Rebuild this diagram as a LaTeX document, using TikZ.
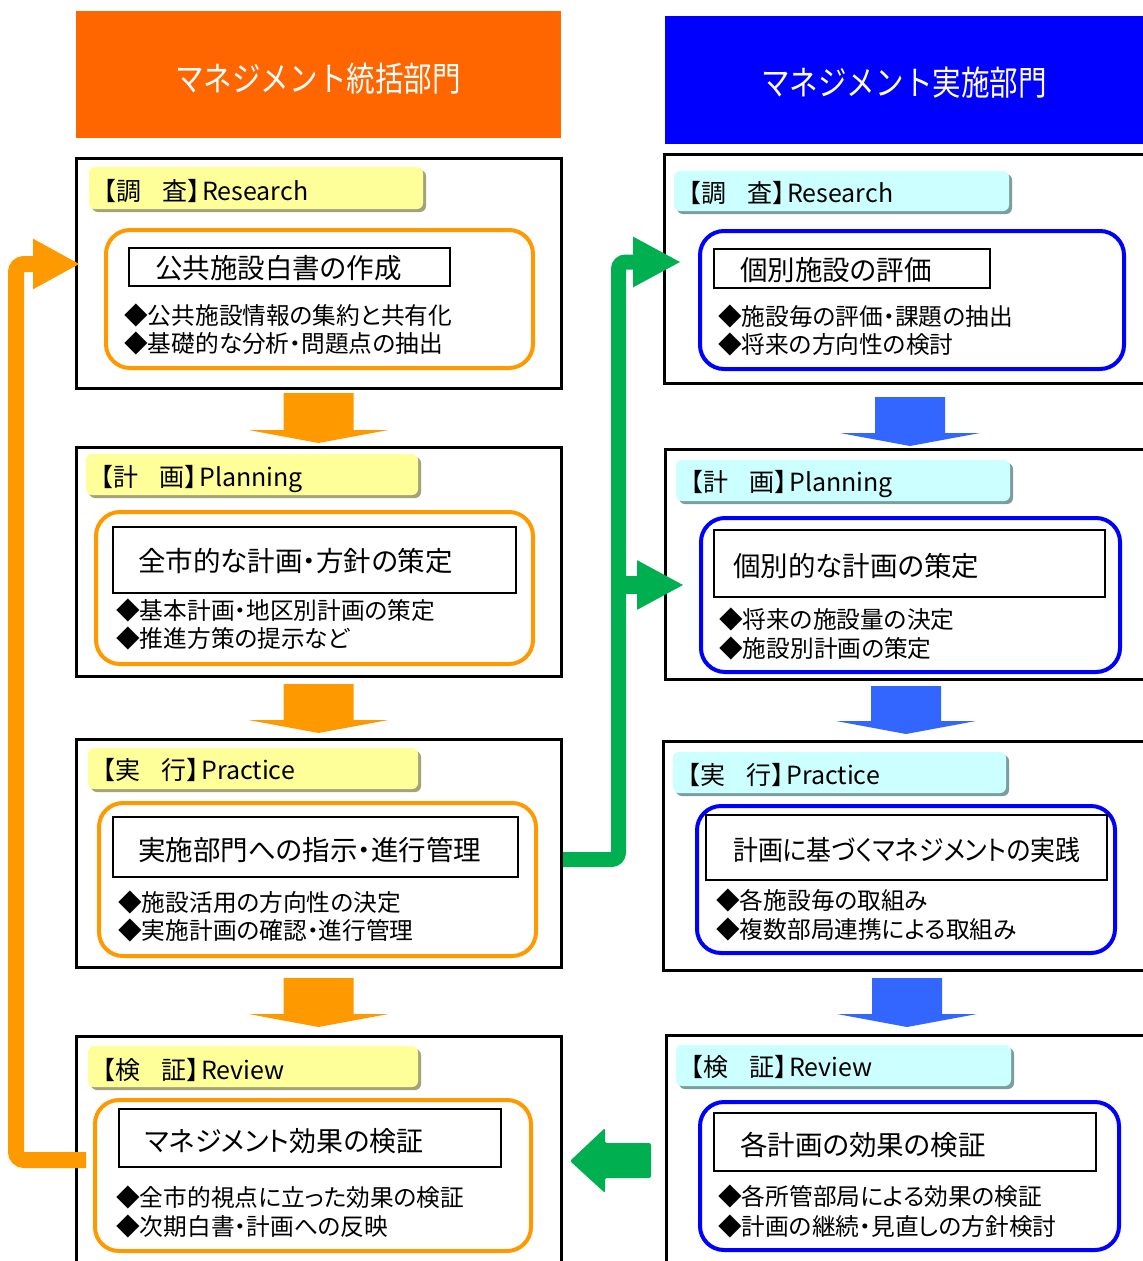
\documentclass[tikz,border=0pt]{standalone}
\usepackage{fontspec}
\newfontfamily\jp[RawFeature=+palt]{Noto Sans CJK JP}
\newfontfamily\jpf{Noto Sans CJK JP}
\usetikzlibrary{arrows.meta}
\definecolor{hdrO}{HTML}{FF6600}
\definecolor{hdrB}{HTML}{0000FF}
\definecolor{lnO}{HTML}{FF9900}
\definecolor{lnB}{HTML}{0000FF}
\definecolor{arB}{HTML}{3366FF}
\definecolor{grn}{HTML}{00B050}
\definecolor{tabY}{HTML}{FFFF99}
\definecolor{tabYs}{HTML}{A3A37A}
\definecolor{tabC}{HTML}{CCFFFF}
\definecolor{tabCs}{HTML}{7A9E9E}
\tikzset{
  outerbox/.style={draw=black, line width=3pt},
  innerO/.style={draw=lnO, line width=4pt, rounded corners=24pt},
  innerB/.style={draw=lnB, line width=4pt, rounded corners=24pt},
  titlebox/.style={draw=black, line width=1.5pt},
}
% text node: name, x, y(center), size, text
\newcommand\jt[5]{\node[anchor=base west,inner sep=0pt,font=\jp\fontsize{#4}{#4}\selectfont] (#1) at (#2,{#3+0.37*#4}) {#5};}
\newcommand\tabtext[2]{{\jpf 【#1\hspace{21pt}#2】}\hspace{-10pt}}
% tab: x1 y1 x2 y2 fill shadow
\newcommand\tabbox[6]{%
  \fill[#6, rounded corners=6pt] ({#1+3},{#2+3}) rectangle ({#3+3},{#4+3});
  \fill[#5, rounded corners=6pt] (#1,#2) rectangle (#3,#4);}
% down block arrow: cx top tip color
\newcommand\blockdown[4]{%
  \fill[#4] ({#1-35},#2) -- ({#1+35},#2) -- ({#1+35},{#3-13}) -- ({#1+70},{#3-13})
    -- (#1,#3) -- ({#1-70},{#3-13}) -- ({#1-35},{#3-13}) -- cycle;}
\begin{document}
\begin{tikzpicture}[x=1pt,y=-1pt]
\useasboundingbox (0,0) rectangle (1143,1261);
\fill[white] (0,0) rectangle (1143,1261);

% headers
\fill[hdrO] (76,11) rectangle (561,138);
\node[inner sep=0pt,text=white,font=\jpf\fontsize{34}{34}\selectfont] (hL) at (318,79) {\scalebox{0.84}[1]{マネジメント統括部門}};
\fill[hdrB] (665,16) rectangle (1150,144);
\node[inner sep=0pt,text=white,font=\jpf\fontsize{34}{34}\selectfont] (hR) at (904,83) {\scalebox{0.84}[1]{マネジメント実施部門}};

% outer boxes
\draw[outerbox] (76,158) rectangle (561,388);
\draw[outerbox] (76,447) rectangle (561,676);
\draw[outerbox] (76,739) rectangle (561,967);
\draw[outerbox] (76,1036) rectangle (561,1275);
\draw[outerbox] (664,154) rectangle (1155,383);
\draw[outerbox] (665,449) rectangle (1155,679);
\draw[outerbox] (663,741) rectangle (1155,970);
\draw[outerbox] (666,1035) rectangle (1155,1275);

% tabs
\tabbox{89}{167}{423}{209}{tabY}{tabYs}
\tabbox{86}{454}{418}{495}{tabY}{tabYs}
\tabbox{88}{748}{418}{789}{tabY}{tabYs}
\tabbox{88}{1046}{418}{1087}{tabY}{tabYs}
\tabbox{674}{171}{1009}{211}{tabC}{tabCs}
\tabbox{676}{460}{1010}{501}{tabC}{tabCs}
\tabbox{673}{752}{1006}{793}{tabC}{tabCs}
\tabbox{676}{1045}{1011}{1086}{tabC}{tabCs}
\jt{tL1}{91}{191}{25}{\tabtext{調}{査}Research}
\jt{tL2}{88}{477}{25}{\tabtext{計}{画}Planning}
\jt{tL3}{90}{770}{25}{\tabtext{実}{行}Practice}
\jt{tL4}{90}{1070}{25}{\tabtext{検}{証}Review}
\jt{tR1}{676}{193}{25}{\tabtext{調}{査}Research}
\jt{tR2}{678}{482}{25}{\tabtext{計}{画}Planning}
\jt{tR3}{675}{775}{25}{\tabtext{実}{行}Practice}
\jt{tR4}{678}{1067}{25}{\tabtext{検}{証}Review}

% inner rounded boxes
\draw[innerO] (106,230) rectangle (533,368);
\draw[innerO] (96,512) rectangle (533,664);
\draw[innerO] (99,803) rectangle (536,956);
\draw[innerO] (95,1100) rectangle (531,1251);
\draw[innerB] (700,231) rectangle (1124,369);
\draw[innerB] (701,518) rectangle (1120,672);
\draw[innerB] (697,806) rectangle (1115,953);
\draw[innerB] (700,1102) rectangle (1119,1250);

% title boxes
\draw[titlebox] (129,248) rectangle (450,286);
\draw[titlebox] (113,527) rectangle (516,593);
\draw[titlebox] (113,817) rectangle (518,877);
\draw[titlebox] (119,1109) rectangle (501,1167);
\draw[titlebox] (714,249) rectangle (990,288);
\draw[titlebox] (714,530) rectangle (1105,597);
\draw[titlebox] (706,815) rectangle (1107,880);
\draw[titlebox] (714,1113) rectangle (1096,1171);

\jt{sL1}{155}{268}{27.5}{公共施設白書の作成}
\jt{sL2}{138}{561}{27.5}{全市的な計画・方針の策定}
\jt{sL3}{138}{850}{27.5}{実施部門への指示・進行管理}
\jt{sL4}{145}{1141}{27.5}{\scalebox{0.98}[1]{マネジメント効果の検証}}
\jt{sR1}{740}{270}{27.5}{個別施設の評価}
\jt{sR2}{733}{566}{27.5}{個別的な計画の策定}
\jt{sR3}{733}{850}{27.5}{\scalebox{0.905}[1]{計画に基づくマネジメントの実践}}
\jt{sR4}{740}{1145}{27.5}{各計画の効果の検証}

% bullets
\jt{bL1a}{124}{316}{23.7}{◆公共施設情報の集約と共有化}
\jt{bL1b}{124}{344}{23.7}{◆基礎的な分析・問題点の抽出}
\jt{bL2a}{116}{611}{23.7}{◆基本計画・地区別計画の策定}
\jt{bL2b}{116}{639}{23.7}{◆推進方策の提示など}
\jt{bL3a}{118}{903}{23.7}{◆施設活用の方向性の決定}
\jt{bL3b}{118}{931}{23.7}{◆実施計画の確認・進行管理}
\jt{bL4a}{116}{1198}{23.7}{◆全市的視点に立った効果の検証}
\jt{bL4b}{116}{1227}{23.7}{◆次期白書・計画への反映}
\jt{bR1a}{718}{317}{23.7}{◆施設毎の評価・課題の抽出}
\jt{bR1b}{718}{345}{23.7}{◆将来の方向性の検討}
\jt{bR2a}{719}{620}{23.7}{◆将来の施設量の決定}
\jt{bR2b}{719}{649}{23.7}{◆施設別計画の策定}
\jt{bR3a}{716}{901}{23.7}{◆各施設毎の取組み}
\jt{bR3b}{716}{930}{23.7}{◆複数部局連携による取組み}
\jt{bR4a}{718}{1197}{23.7}{◆各所管部局による効果の検証}
\jt{bR4b}{718}{1227}{23.7}{◆計画の継続・見直しの方針検討}

% down arrows
\blockdown{318.5}{393}{443}{lnO}
\blockdown{318.5}{684}{733}{lnO}
\blockdown{318.5}{978}{1027}{lnO}
\blockdown{910}{397}{446}{arB}
\blockdown{906}{686}{734}{arB}
\blockdown{907}{978}{1027}{arB}

% orange feedback loop
\coordinate (oS) at (86,1160);
\coordinate (oE) at (80,264);
\draw[lnO, line width=16pt, rounded corners=8pt, -{Triangle[length=47pt,width=47pt]}]
  (oS) -| (16,264) -- (oE);

% green loop
\coordinate (gS) at (563,859.5);
\coordinate (gE) at (681,262);
\coordinate (gM) at (684,585);
\draw[grn, line width=15pt, rounded corners=7pt, -{Triangle[length=48pt,width=47pt]}]
  (gS) -| (618.5,262) -- (gE);
\draw[grn, line width=18pt, -{Triangle[length=47pt,width=46pt]}] (618.5,585) -- (gM);

% green left block arrow
\fill[grn, rounded corners=2pt] (570,1161) -- (605,1128) -- (605,1143) -- (651,1143)
  -- (651,1178) -- (605,1178) -- (605,1193) -- cycle;
\end{tikzpicture}
\end{document}
